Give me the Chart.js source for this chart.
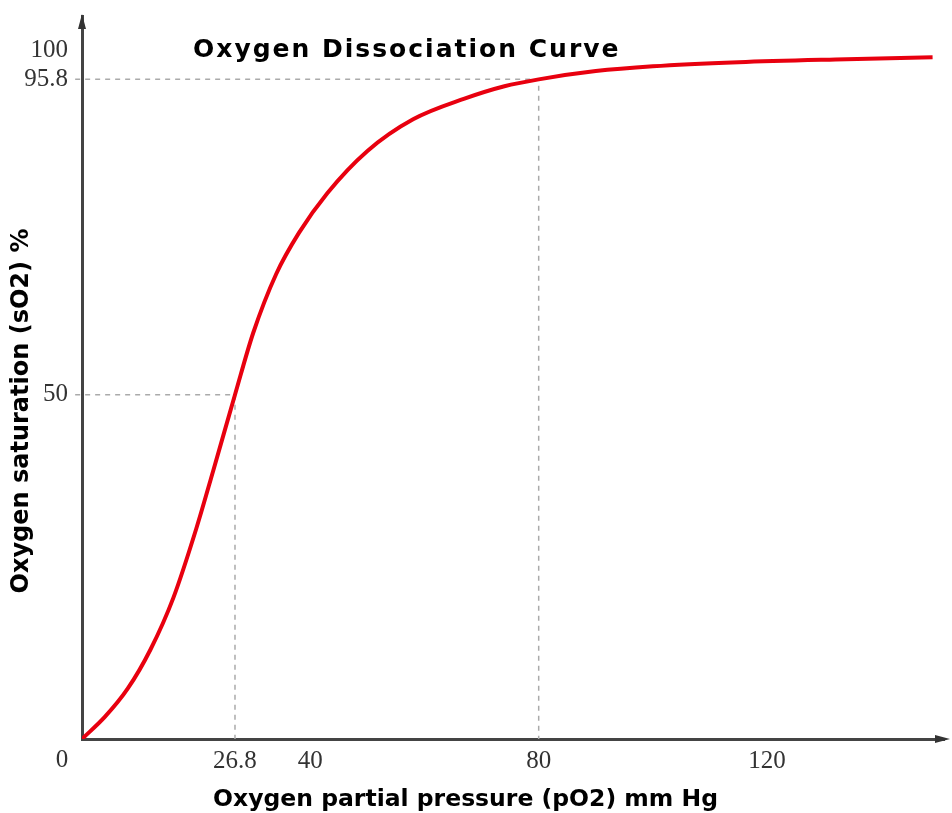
<!DOCTYPE html>
<html>
<head>
<meta charset="utf-8">
<script src="https://cdn.jsdelivr.net/npm/chart.js@4.4.0/dist/chart.umd.min.js"></script>
<style>
  body { margin: 0; background: #fff; }
</style>
</head>
<body>
<div style="width: 952px; height: 813px;">
  <canvas id="wykres" width="952" height="813"></canvas>
</div>
<script>
// values
var pO2 = [0, 4, 8, 12, 16, 20, 23, 26.8, 30, 34, 38, 43, 50, 58, 67, 74, 80, 90, 100, 115, 132, 149];
var sO2 = [0, 3.2, 7.3, 13.0, 20.5, 30.5, 39.0, 50, 59.0, 67.5, 73.5, 79.3, 85.4, 90.0, 93.0, 94.8, 95.8, 97.0, 97.7, 98.3, 98.7, 99.0];
var xTicks = [26.8, 40, 80, 120];
var yTicks = [50, 95.8, 100];
var p50 = 26.8, s50 = 50;
var pArt = 80, sArt = 95.8;
var tytul = "Oxygen Dissociation Curve";
var xTytul = "Oxygen partial pressure (pO2) mm Hg";
var yTytul = "Oxygen saturation (sO2) %";

var krzywa = pO2.map(function (p, i) { return { x: p, y: sO2[i] }; });

var dodatki = {
  id: "dodatki",
  afterDraw: function (chart) {
    var c = chart.ctx, a = chart.chartArea;
    var x0 = chart.scales.x.getPixelForValue(0);
    var y0 = chart.scales.y.getPixelForValue(0);
    c.save();
    // arrow heads
    c.fillStyle = "#333";
    c.beginPath(); c.moveTo(x0, a.top - 2); c.lineTo(x0 - 4, a.top + 13); c.lineTo(x0 + 4, a.top + 13); c.fill();
    c.beginPath(); c.moveTo(a.right + 6, y0); c.lineTo(a.right - 9, y0 - 4); c.lineTo(a.right - 9, y0 + 4); c.fill();
    // origin label
    c.font = '25px "Liberation Serif"';
    c.fillStyle = "#333";
    c.textAlign = "center";
    c.textBaseline = "middle";
    c.fillText("0", x0 - 20, y0 + 21);
    // titles
    c.fillStyle = "#000";
    c.textAlign = "left";
    c.font = 'bold 25px "DejaVu Sans"';
    c.letterSpacing = "2px";
    c.fillText(tytul, x0 + 111, 50);
    c.letterSpacing = "0px";
    c.font = 'bold 23.5px "DejaVu Sans"';
    c.fillText(xTytul, x0 + 131, 800);
    c.translate(22, 411);
    c.rotate(-Math.PI / 2);
    c.textAlign = "center";
    c.font = 'bold 24px "DejaVu Sans"';
    c.fillText(yTytul, 0, 0);
    c.restore();
  }
};

var kreski = { borderColor: "#aaa", borderWidth: 1.5, borderDash: [5, 5], pointRadius: 0, showLine: true, clip: false, order: 1 };

var ctx = document.getElementById("wykres").getContext("2d");
var wykres = new Chart(ctx, {
  type: "scatter",
  data: {
    datasets: [
      {
        label: "sO2",
        data: krzywa,
        showLine: true,
        borderColor: "#e8000f",
        borderWidth: 4,
        pointRadius: 0,
        cubicInterpolationMode: "monotone",
        order: 0
      },
      Object.assign({ label: "p50", data: [{ x: -1.2, y: s50 }, { x: p50, y: s50 }, { x: p50, y: 0 }] }, kreski),
      Object.assign({ label: "arterial", data: [{ x: -1.2, y: sArt }, { x: pArt, y: sArt }, { x: pArt, y: 0 }] }, kreski)
    ]
  },
  options: {
    responsive: false,
    animation: false,
    layout: { padding: { top: 16, right: 8, left: 0, bottom: 0 } },
    plugins: {
      legend: { display: false },
      tooltip: { enabled: false }
    },
    scales: {
      x: {
        type: "linear",
        min: 0,
        max: 151,
        grid: { display: false, drawTicks: false },
        border: { display: true, color: "#444", width: 3 },
        afterBuildTicks: function (s) { s.ticks = xTicks.map(function (v) { return { value: v }; }); },
        afterFit: function (s) { s.height = 74; s.paddingLeft = 0; s.paddingRight = 0; },
        ticks: {
          autoSkip: false,
          maxRotation: 0,
          padding: 7,
          color: "#333",
          font: { family: "Liberation Serif", size: 25 },
          callback: function (v) { return String(v); }
        }
      },
      y: {
        type: "linear",
        min: 0,
        max: 105,
        grid: { display: false, drawTicks: false },
        border: { display: true, color: "#444", width: 3 },
        afterBuildTicks: function (s) { s.ticks = yTicks.map(function (v) { return { value: v }; }); },
        afterFit: function (s) { s.width = 82; s.paddingTop = 0; s.paddingBottom = 0; },
        ticks: {
          autoSkip: false,
          padding: 14,
          color: "#333",
          font: { family: "Liberation Serif", size: 25 },
          callback: function (v) { return String(v); }
        }
      }
    }
  },
  plugins: [dodatki]
});
</script>
</body>
</html>
